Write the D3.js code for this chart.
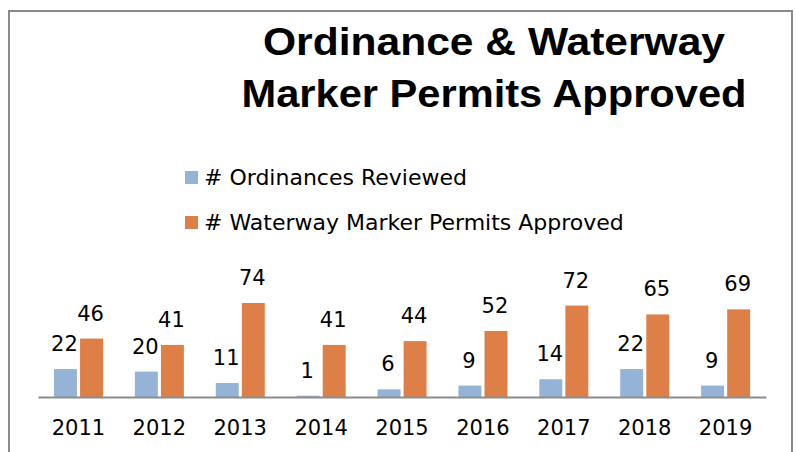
<!DOCTYPE html>
<html>
<head>
<meta charset="utf-8">
<script src="https://cdn.jsdelivr.net/npm/d3@7"></script>
<style>
  html, body { margin: 0; padding: 0; background: #fff; }
  svg { display: block; }
</style>
</head>
<body>
<div id="chart"></div>
<script>
const years = ['2011', '2012', '2013', '2014', '2015', '2016', '2017', '2018', '2019'];
const ordinances = [22, 20, 11, 1, 6, 9, 14, 22, 9];
const permits = [46, 41, 74, 41, 44, 52, 72, 65, 69];
const seriesNames = ['# Ordinances Reviewed', '# Waterway Marker Permits Approved'];
const titleLines = ['Ordinance & Waterway', 'Marker Permits Approved'];

const width = 796;
const height = 452;
const colors = ['#95b3d7', '#de7f47'];

const svg = d3.select('#chart')
  .append('svg')
  .attr('width', width)
  .attr('height', height);

// outer frame, runs off the bottom of the picture
svg.append('rect')
  .attr('x', 9).attr('y', 11)
  .attr('width', 783).attr('height', 460)
  .attr('fill', 'none')
  .attr('stroke', '#8a8a8a')
  .attr('stroke-width', 2);

// title - widths stretched to the original's heavier face
const titleWidths = [462, 505];
svg.append('g')
  .selectAll('text')
  .data(titleLines)
  .enter()
  .append('text')
  .attr('x', 494)
  .attr('y', (d, i) => 55 + i * 52)
  .attr('text-anchor', 'middle')
  .attr('textLength', (d, i) => titleWidths[i])
  .attr('lengthAdjust', 'spacingAndGlyphs')
  .style('font-family', '"Liberation Sans", Arial, sans-serif')
  .style('font-weight', 'bold')
  .style('font-size', '38px')
  .text(d => d);

// legend
const legend = svg.append('g')
  .selectAll('g')
  .data(seriesNames)
  .enter()
  .append('g')
  .attr('transform', (d, i) => 'translate(185,' + (171 + i * 45) + ')');
legend.append('rect')
  .attr('width', 13).attr('height', 13)
  .attr('fill', (d, i) => colors[i]);
legend.append('text')
  .attr('x', 19).attr('y', 14)
  .style('font-family', '"DejaVu Sans", sans-serif')
  .style('font-size', '22px')
  .text(d => d);

// scales
const x = d3.scaleBand().domain(years).range([38, 766]);
const inner = d3.scaleBand().domain([0, 1]).range([16, 65]).paddingInner(0.12);
const y = d3.scaleLinear().domain([0, 80]).range([397, 295.4]);

const rows = years.map((yr, i) => ({ year: yr, values: [ordinances[i], permits[i]] }));

const groups = svg.append('g')
  .selectAll('g')
  .data(rows)
  .enter()
  .append('g')
  .attr('transform', d => 'translate(' + x(d.year) + ',0)');

groups.selectAll('rect')
  .data(d => d.values.map((v, k) => ({ v, k })))
  .enter()
  .append('rect')
  .attr('x', d => inner(d.k))
  .attr('width', inner.bandwidth())
  .attr('y', d => y(d.v))
  .attr('height', d => y(0) - y(d.v))
  .attr('fill', d => colors[d.k]);

groups.selectAll('text')
  .data(d => d.values.map((v, k) => ({ v, k })))
  .enter()
  .append('text')
  .attr('x', d => inner(d.k) + inner.bandwidth() / 2 - 1)
  .attr('y', d => y(d.v) - 18)
  .attr('text-anchor', 'middle')
  .style('font-family', '"DejaVu Sans", sans-serif')
  .style('font-size', '21px')
  .text(d => d.v);

// x axis
const xAxis = svg.append('g')
  .attr('transform', 'translate(0,' + y(0) + ')')
  .call(d3.axisBottom(x).tickSize(0).tickPadding(0));
xAxis.select('.domain')
  .attr('stroke', '#8c8c8c')
  .attr('stroke-width', 2);
xAxis.selectAll('text')
  .attr('y', 38)
  .attr('dy', 0)
  .style('font-family', '"DejaVu Sans", sans-serif')
  .style('font-size', '21px')
  .attr('fill', '#000');
</script>
</body>
</html>
